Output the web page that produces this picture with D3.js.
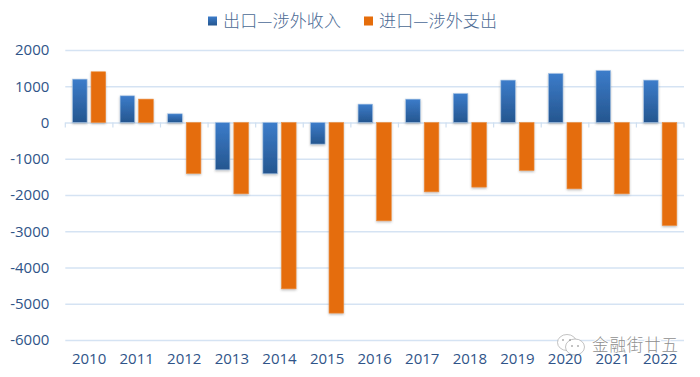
<!DOCTYPE html>
<html><head><meta charset="utf-8">
<script src="https://cdn.jsdelivr.net/npm/d3@7/dist/d3.min.js"></script>
<style>html,body{margin:0;padding:0;background:#fff;overflow:hidden}svg{display:block}</style>
</head><body>
<svg id="c" width="700" height="377"></svg>
<script>
const years=["2010","2011","2012","2013","2014","2015","2016","2017","2018","2019","2020","2021","2022"];
const seriesNames=["出口—涉外收入","进口—涉外支出"];
const exportsIncome=[1197,736,240,-1305,-1415,-596,507,645,800,1170,1352,1434,1170];
const importsExpense=[1399,645,-1407,-1967,-4588,-5258,-2712,-1912,-1782,-1324,-1829,-1967,-2841];
const yTicks=[2000,1000,0,-1000,-2000,-3000,-4000,-5000,-6000];
const watermark="金融街廿五";

const svg=d3.select("#c");
const margin={left:65.3,right:16,top:50,bottom:37};
const W=700,H=377;
const x=d3.scaleBand().domain(years).range([margin.left,W-margin.right]);
const inner=d3.scaleBand().domain([0,1]).range([7.2,x.bandwidth()-7.2]).paddingInner(0.215);
const y=d3.scaleLinear().domain([-6000,2000]).range([H-margin.bottom,margin.top]);
const txt="#2f5488";

const defs=svg.append("defs");
const g=defs.append("linearGradient").attr("id","blueG").attr("x1",0).attr("x2",0).attr("y1",0).attr("y2",1);
g.append("stop").attr("offset","0%").attr("stop-color","#3c7cca");
g.append("stop").attr("offset","100%").attr("stop-color","#25568f");
const f=defs.append("filter").attr("id","sh").attr("x","-20%").attr("y","-10%").attr("width","140%").attr("height","125%");
f.append("feDropShadow").attr("dx",0).attr("dy",1.2).attr("stdDeviation",0.9).attr("flood-color","#555").attr("flood-opacity",0.4);

// y axis + gridlines
const yAxis=d3.axisLeft(y).tickValues(yTicks).tickSize(-(W-margin.left-margin.right)).tickPadding(16).tickFormat(d=>String(d));
const ya=svg.append("g").attr("transform",`translate(${margin.left},0)`).call(yAxis);
ya.select(".domain").remove();
ya.selectAll("line").attr("stroke","#d5e3f3").attr("stroke-width",1.4);
ya.selectAll("text").attr("fill",txt).attr("font-family","'Open Sans','Noto Sans',sans-serif").attr("font-size",15);

// zero line ticks
const tickPos=[...years.map(d=>x(d)),x.range()[1]];
svg.append("g").selectAll("line").data(tickPos).join("line")
 .attr("x1",d=>d).attr("x2",d=>d).attr("y1",y(0)).attr("y2",y(0)+5)
 .attr("stroke","#cfdff0").attr("stroke-width",1.2);

// bars
const series=[{v:exportsIncome,fill:"url(#blueG)",edge:"#a9c6e6"},{v:importsExpense,fill:"#e56d0b",edge:"#ec8f3f"}];
series.forEach((s,i)=>{
 svg.append("g").attr("filter","url(#sh)").selectAll("rect").data(s.v).join("rect")
  .attr("x",(d,k)=>x(years[k])+inner(i))
  .attr("width",inner.bandwidth())
  .attr("y",d=>y(Math.max(d,0)))
  .attr("height",d=>Math.abs(y(d)-y(0)))
  .attr("fill",s.fill).attr("stroke",s.edge).attr("stroke-width",0.6);
});

// watermark, under the x labels
const wm=svg.append("g");
[[567,342.5,9.5,8],[575,347,9.5,8]].forEach(e=>{
 wm.append("ellipse").attr("cx",e[0]).attr("cy",e[1]).attr("rx",e[2]).attr("ry",e[3])
  .attr("fill","#fff").attr("stroke","#a8a8a8").attr("stroke-width",0.7);
});
[[563,340],[570,340],[572,346],[578,346]].forEach(p=>{
 wm.append("circle").attr("cx",p[0]).attr("cy",p[1]).attr("r",0.8).attr("fill","#777");
});
wm.append("text").attr("x",592).attr("y",351).text(watermark)
 .attr("fill","#8f8f8f").attr("stroke","#fff").attr("stroke-width",2).attr("paint-order","stroke")
 .attr("font-family","'Noto Sans CJK SC',sans-serif").attr("font-weight",300).attr("font-size",16.5).attr("textLength",86);

// x labels
const xAxis=d3.axisBottom(x).tickSize(0).tickPadding(0);
const xa=svg.append("g").attr("transform",`translate(0,${y(-6000)+13})`).call(xAxis);
xa.select(".domain").remove();
xa.selectAll("text").attr("fill",txt).attr("font-family","'Open Sans','Noto Sans',sans-serif").attr("font-size",15);

// legend
const leg=[{sx:208,tx:223,c:"url(#blueG)"},{sx:364,tx:379,c:"#e56d0b"}];
leg.forEach((l,i)=>{
 svg.append("rect").attr("x",l.sx).attr("y",16.5).attr("width",9).attr("height",9).attr("fill",l.c);
 svg.append("text").attr("x",l.tx).attr("y",26.5).text(seriesNames[i])
  .attr("fill","#4b6a94").attr("font-family","'Noto Sans CJK SC',sans-serif").attr("font-weight",300)
  .attr("font-size",17).attr("textLength",118);
});
</script>
</body></html>
